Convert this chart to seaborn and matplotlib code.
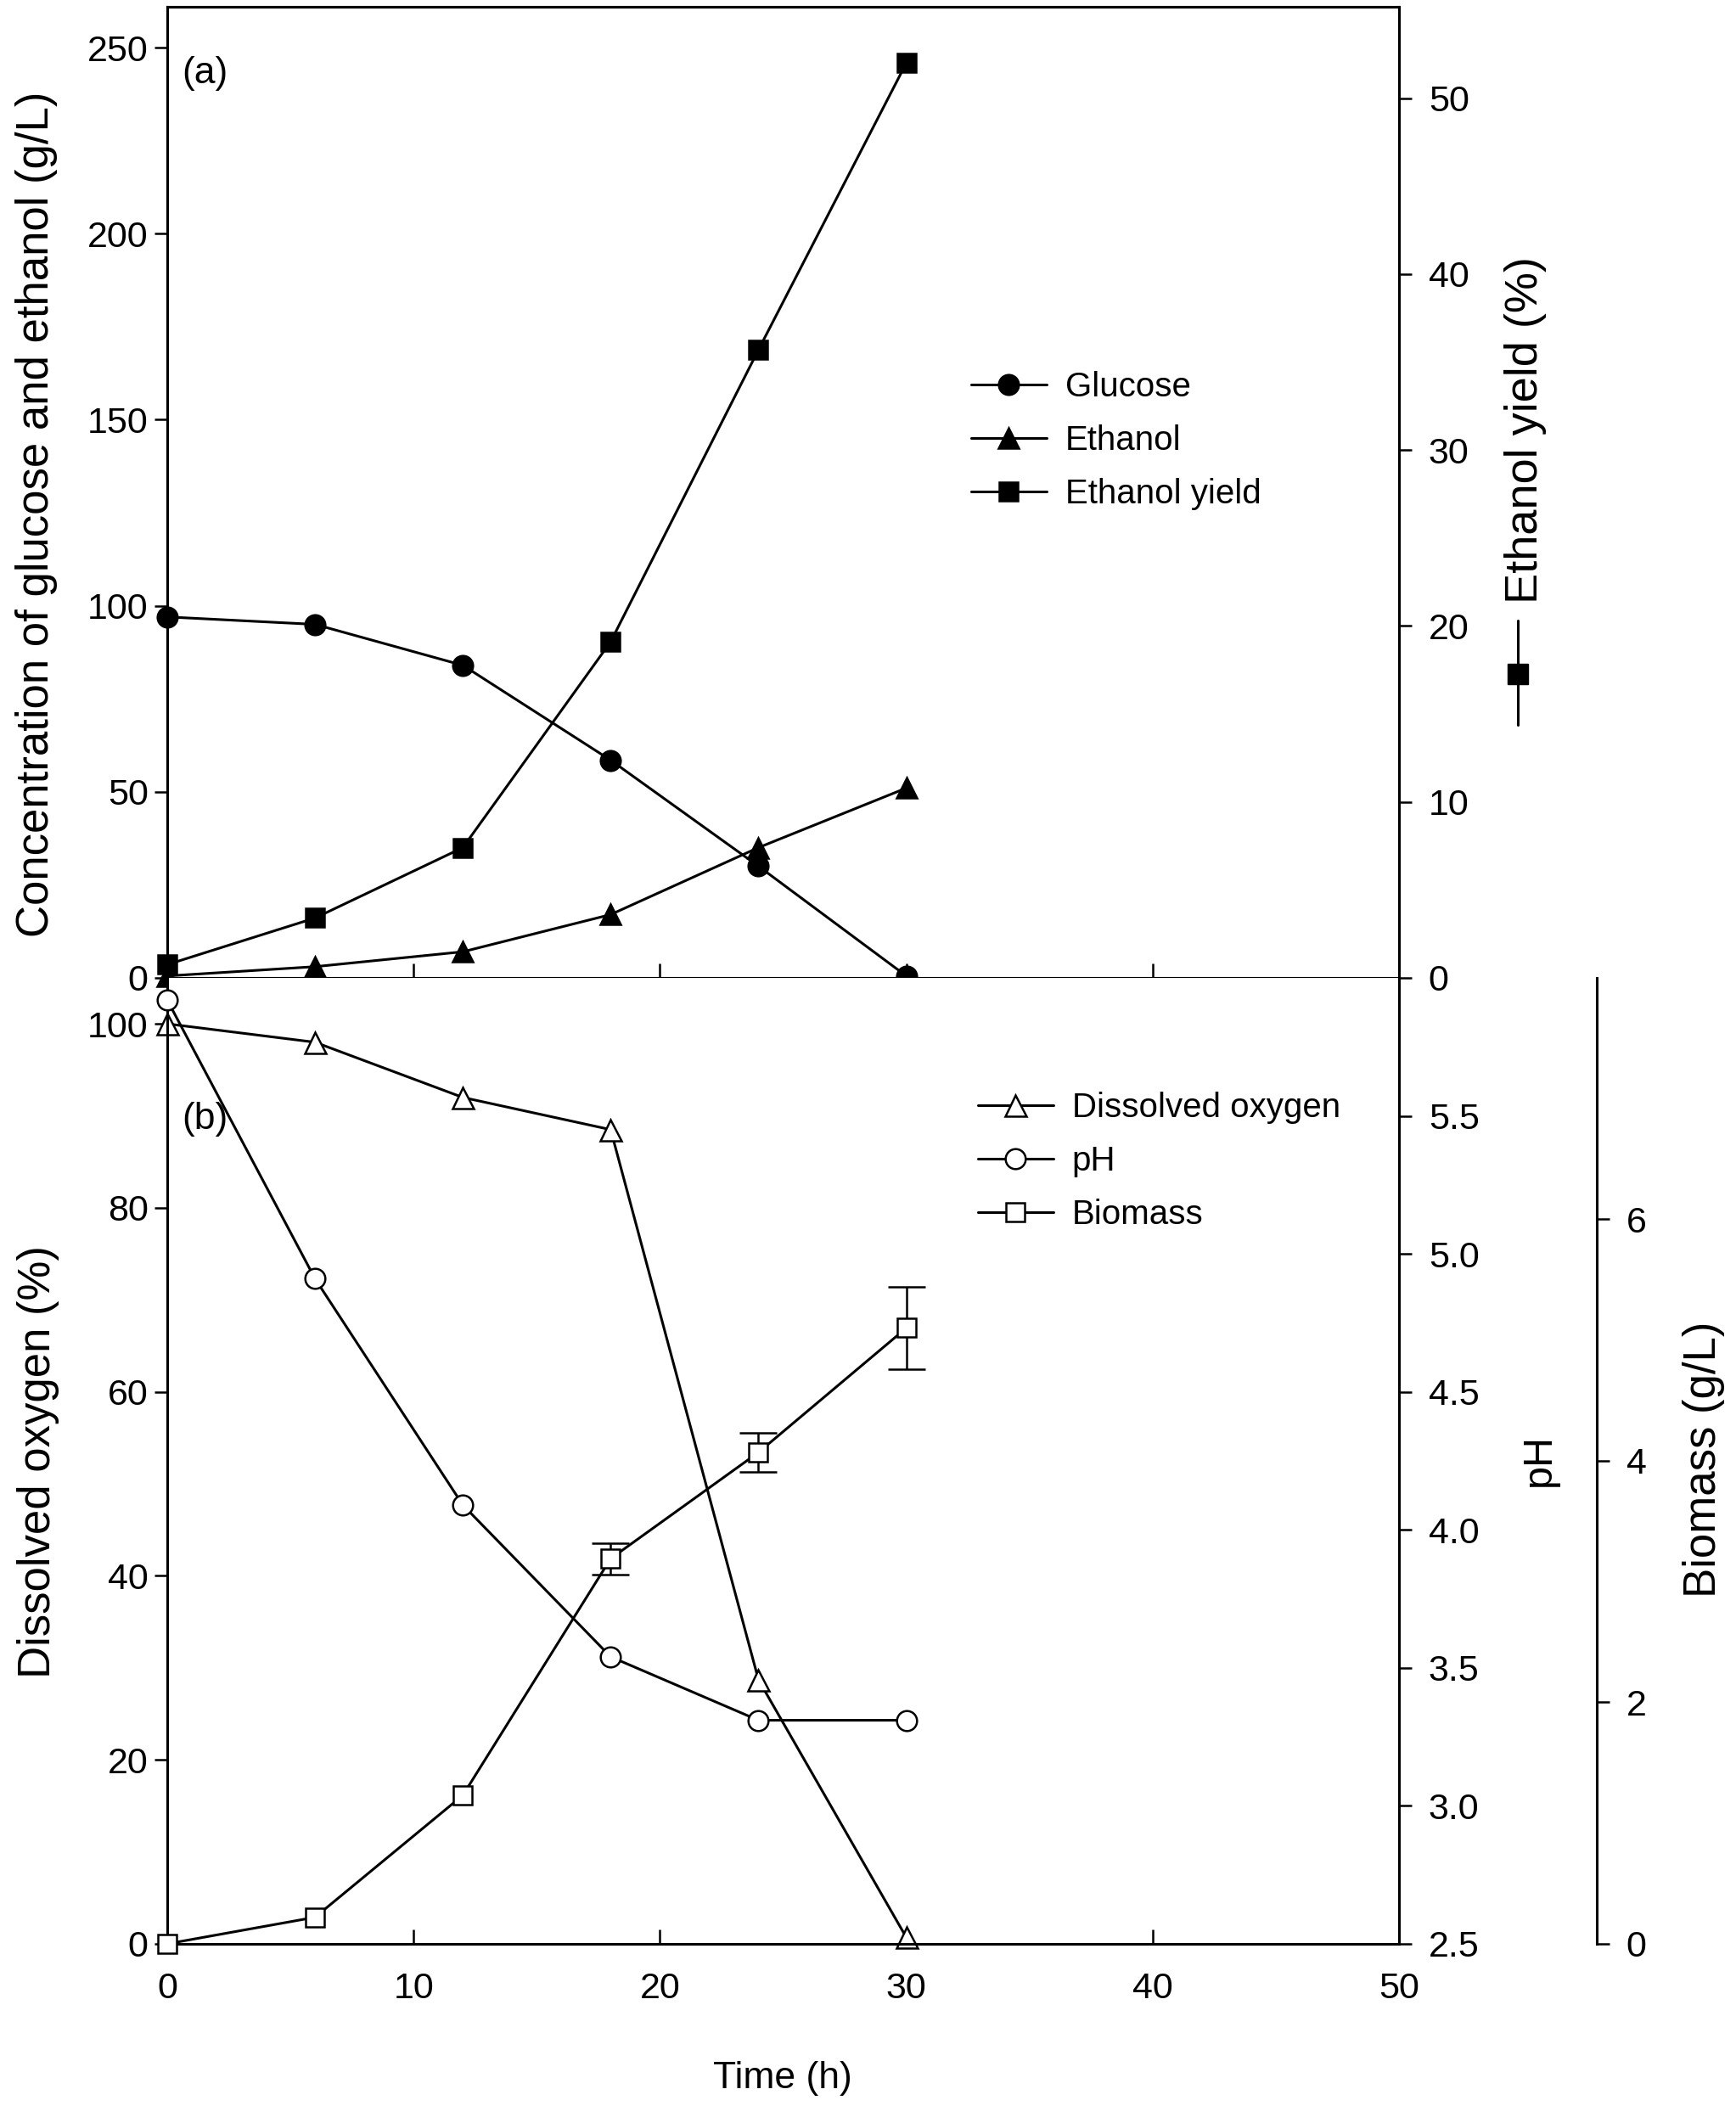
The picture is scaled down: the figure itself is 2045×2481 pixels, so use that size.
import numpy as np
import matplotlib
matplotlib.use("Agg")
import matplotlib.pyplot as plt
import seaborn as sns
from matplotlib.ticker import FormatStrFormatter

# ---- data ----
time_h = [0, 6, 12, 18, 24, 30]

# panel (a)
glucose = [97, 95, 84, 58.5, 30, 0.5]
ethanol = [0.5, 3, 7, 17, 35, 51]
ethanol_yield = [0.75, 3.4, 7.4, 19.1, 35.7, 52.0]

# panel (b)
dissolved_oxygen = [100, 98, 92, 88.5, 28.7, 0.7]
ph = [5.92, 4.91, 4.09, 3.54, 3.31, 3.31]
biomass = [0, 0.22, 1.23, 3.19, 4.07, 5.10]
biomass_err = [0, 0, 0, 0.13, 0.16, 0.34]

x_ticks = [0, 10, 20, 30, 40, 50]
conc_ticks = [0, 50, 100, 150, 200, 250]
yield_ticks = [0, 10, 20, 30, 40, 50]
do_ticks = [0, 20, 40, 60, 80, 100]
ph_ticks = [2.5, 3.0, 3.5, 4.0, 4.5, 5.0, 5.5]
biomass_ticks = [0, 2, 4, 6]

# ---- style ----
sns.set_style("ticks", {"axes.edgecolor": "k", "text.color": "k",
                        "axes.labelcolor": "k", "xtick.color": "k",
                        "ytick.color": "k"})
plt.rcParams['font.family'] = ['Liberation Sans', 'DejaVu Sans']
plt.rcParams['axes.linewidth'] = 2.2

TICK_FS = 31
LABEL_FS = 38
LEG_FS = 29
LW = 2.2

line_kw = dict(color='k', linewidth=LW, markersize=17,
               markeredgecolor='k', markeredgewidth=1.8, clip_on=False)
leg_kw = dict(loc='upper left', frameon=False, fontsize=LEG_FS, handlelength=2.2,
              handletextpad=0.55, labelspacing=0.62, borderpad=0, borderaxespad=0)

fig = plt.figure(figsize=(20.45, 24.81), dpi=100)
ax_a = fig.add_axes([0.0963, 0.5357, 0.7096, 0.4611])
ax_y = ax_a.twinx()
ax_b = fig.add_axes([0.0963, 0.0770, 0.7096, 0.4587])
ax_ph = ax_b.twinx()
ax_bio = ax_b.twinx()
ax_bio.spines['right'].set_position(('axes', 1.1606))

# ---- panel (a) ----
sns.lineplot(x=time_h, y=glucose, marker='o', label='Glucose', ax=ax_a, **line_kw)
h_glu = ax_a.lines[-1]
sns.lineplot(x=time_h, y=ethanol, marker='^', label='Ethanol', ax=ax_a, **line_kw)
h_eth = ax_a.lines[-1]
sns.lineplot(x=time_h, y=ethanol_yield, marker='s', label='Ethanol yield', ax=ax_y,
             **dict(line_kw, markersize=16))
h_yld = ax_y.lines[-1]
for ax in (ax_a, ax_y):
    if ax.get_legend() is not None:
        ax.get_legend().remove()

ax_a.set_xlim(0, 50)
ax_a.set_ylim(0, 261)
ax_y.set_ylim(0, 55.2)
ax_a.set_xticks(x_ticks)
ax_a.set_yticks(conc_ticks)
ax_y.set_yticks(yield_ticks)
ax_a.set_xlabel("")
ax_a.set_ylabel("")
ax_a.tick_params(axis='x', direction='in', length=12, width=1.8, labelbottom=False)
ax_a.tick_params(axis='y', direction='out', length=11, width=1.8, labelsize=TICK_FS, pad=5)
ax_y.tick_params(axis='y', direction='out', length=11, width=1.8, labelsize=TICK_FS, pad=14)
for s in ax_a.spines.values():
    s.set_visible(True)
    s.set_linewidth(2.2)

ax_a.legend(handles=[h_glu, h_eth, h_yld], labels=['Glucose', 'Ethanol', 'Ethanol yield'],
            bbox_to_anchor=(0.5594, 0.8240), bbox_transform=fig.transFigure, **leg_kw)
ax_a.text(0.1046, 0.9653, "(a)", transform=fig.transFigure, fontsize=32,
          va='center', ha='left')

# little legend symbol under the right-hand label
ax_a.plot([1.0965, 1.0965], [0.26, 0.368], transform=ax_a.transAxes,
          color='k', lw=LW, clip_on=False)
ax_a.plot([1.0965], [0.313], transform=ax_a.transAxes, marker='s', ms=17,
          color='k', clip_on=False)

# ---- panel (b) ----
sns.lineplot(x=time_h, y=dissolved_oxygen, marker='^', label='Dissolved oxygen', ax=ax_b,
             markerfacecolor='white', **dict(line_kw, markersize=18))
h_do = ax_b.lines[-1]
sns.lineplot(x=time_h, y=ph, marker='o', label='pH', ax=ax_ph,
             markerfacecolor='white', **line_kw)
h_ph = ax_ph.lines[-1]
err = np.array(biomass_err)
mask = err > 0
ax_bio.errorbar(np.array(time_h)[mask], np.array(biomass)[mask], yerr=err[mask],
                fmt='none', ecolor='k', elinewidth=1.8, capsize=16, capthick=1.8,
                zorder=1, clip_on=False)
sns.lineplot(x=time_h, y=biomass, marker='s', label='Biomass', ax=ax_bio,
             markerfacecolor='white', zorder=3, **dict(line_kw, markersize=16))
h_bio = ax_bio.lines[-1]
for ax in (ax_b, ax_ph, ax_bio):
    if ax.get_legend() is not None:
        ax.get_legend().remove()

ax_b.set_xlim(0, 50)
ax_b.set_ylim(0, 105)
ax_ph.set_ylim(2.5, 6.0)
ax_bio.set_ylim(0, 8)
ax_b.set_xticks(x_ticks)
ax_b.set_yticks(do_ticks)
ax_ph.set_yticks(ph_ticks)
ax_ph.yaxis.set_major_formatter(FormatStrFormatter('%.1f'))
ax_bio.set_yticks(biomass_ticks)
ax_b.set_xlabel("")
ax_b.set_ylabel("")
ax_ph.set_ylabel("")
ax_bio.set_ylabel("")
ax_b.tick_params(axis='x', direction='in', length=12, width=1.8, labelsize=TICK_FS, pad=24)
ax_b.tick_params(axis='y', direction='out', length=11, width=1.8, labelsize=TICK_FS, pad=5)
ax_ph.tick_params(axis='y', direction='out', length=11, width=1.8, labelsize=TICK_FS, pad=14)
ax_bio.tick_params(axis='y', direction='out', length=11, width=1.8, labelsize=TICK_FS, pad=14)

ax_b.spines['top'].set_visible(False)
ax_b.spines['right'].set_visible(False)
for ax in (ax_ph, ax_bio):
    for side in ('top', 'left', 'bottom'):
        ax.spines[side].set_visible(False)
    ax.spines['right'].set_visible(True)
    ax.spines['right'].set_linewidth(2.2)
ax_b.spines['left'].set_linewidth(2.2)
ax_b.spines['bottom'].set_linewidth(2.2)

ax_b.legend(handles=[h_do, h_ph, h_bio], labels=['Dissolved oxygen', 'pH', 'Biomass'],
            bbox_to_anchor=(0.5633, 0.4815), bbox_transform=fig.transFigure, **leg_kw)
ax_b.text(0.1046, 0.4684, "(b)", transform=fig.transFigure, fontsize=32,
          va='center', ha='left')

# ---- axis titles ----
fig.text(0.021, 0.756, "Concentration of glucose and ethanol (g/L)", rotation=90,
         ha='center', va='center', fontsize=LABEL_FS)
fig.text(0.8787, 0.7960, "Ethanol yield (%)", rotation=90,
         ha='center', va='center', fontsize=39)
fig.text(0.022, 0.306, "Dissolved oxygen (%)", rotation=90,
         ha='center', va='center', fontsize=LABEL_FS)
fig.text(0.8866, 0.3067, "pH", rotation=90, ha='center', va='center', fontsize=35)
fig.text(0.9814, 0.3072, "Biomass (g/L)", rotation=90,
         ha='center', va='center', fontsize=LABEL_FS)
fig.text(0.451, 0.0133, "Time (h)", ha='center', va='center', fontsize=32)

fig.savefig("out.png", dpi=100)
